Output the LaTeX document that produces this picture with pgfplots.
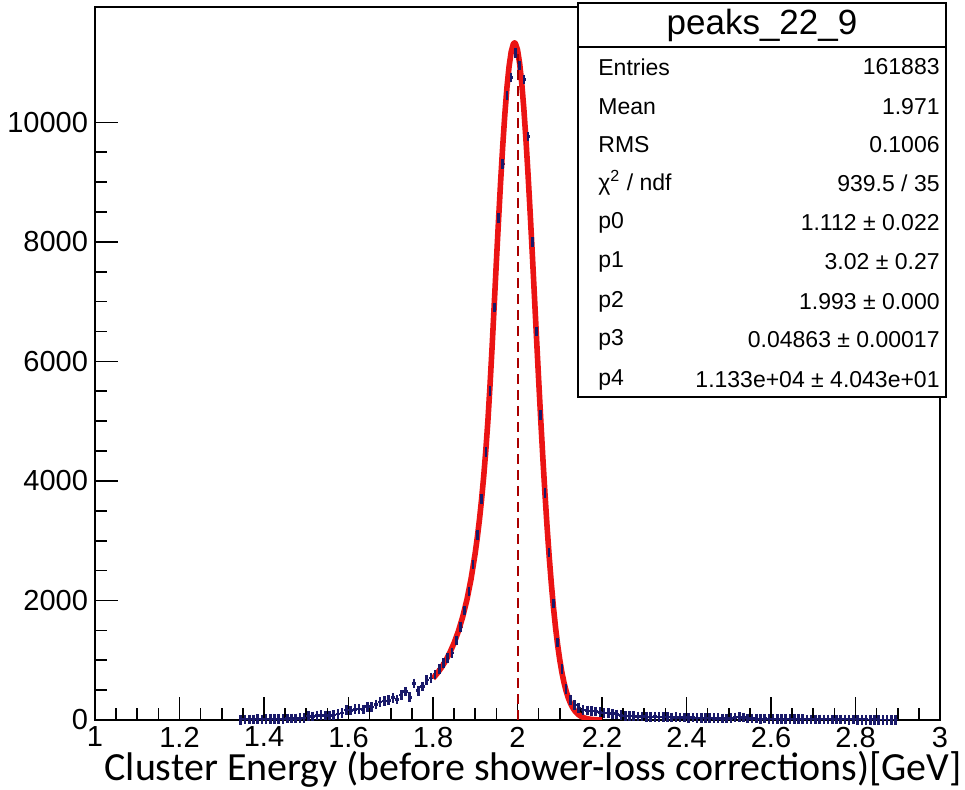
\documentclass[border=0pt]{standalone}
\usepackage{pgfplots}
\pgfplotsset{compat=1.18}
\usepackage{graphicx}
\usepackage{fontspec}
\setmainfont{Liberation Sans}
\newfontfamily\carlito{Carlito}
\definecolor{rootred}{RGB}{235,20,20}
\definecolor{rootnavy}{RGB}{25,25,105}
\definecolor{dashred}{RGB}{170,0,0}

\pgfplotstableread{
x y
1.345 5
1.355 8
1.365 6
1.375 10
1.385 12
1.395 10
1.405 15
1.415 12
1.425 18
1.435 20
1.445 16
1.455 22
1.465 25
1.475 28
1.485 30
1.495 35
1.505 70
1.515 60
1.525 75
1.535 80
1.545 72
1.555 78
1.565 84
1.575 100
1.585 120
1.595 165
1.605 160
1.615 180
1.625 185
1.635 175
1.645 222
1.655 215
1.665 260
1.675 300
1.685 315
1.695 330
1.705 372
1.715 340
1.725 420
1.735 474
1.745 380
1.755 614
1.765 490
1.775 560
1.785 669
1.795 700
1.805 760
1.815 850
1.825 950
1.835 1040
1.845 1120
1.855 1330
1.865 1560
1.875 1830
1.885 2150
1.895 2600
1.905 3100
1.915 3700
1.925 4480
1.935 5500
1.945 6900
1.955 8400
1.965 9300
1.975 10450
1.985 10750
1.995 11160
2.005 10950
2.015 10720
2.025 9760
2.035 8000
2.045 6500
2.055 5100
2.065 3800
2.075 2800
2.085 1950
2.095 1300
2.105 850
2.115 520
2.125 330
2.135 250
2.145 200
2.155 170
2.165 160
2.175 150
2.185 140
2.195 130
2.205 120
2.215 115
2.225 105
2.235 95
2.245 80
2.255 70
2.265 68
2.275 62
2.285 60
2.295 58
2.305 55
2.315 52
2.325 55
2.335 50
2.345 48
2.355 50
2.365 45
2.375 46
2.385 42
2.395 40
2.405 38
2.415 40
2.425 36
2.435 35
2.445 33
2.455 34
2.465 30
2.475 30
2.485 28
2.495 28
2.505 30
2.515 45
2.525 50
2.535 40
2.545 25
2.555 24
2.565 22
2.575 20
2.585 22
2.595 20
2.605 18
2.615 16
2.625 15
2.635 16
2.645 14
2.655 12
2.665 15
2.675 12
2.685 10
2.695 11
2.705 10
2.715 9
2.725 8
2.735 9
2.745 7
2.755 7
2.765 6
2.775 8
2.785 5
2.795 6
2.805 5
2.815 4
2.825 5
2.835 3
2.845 4
2.855 3
2.865 2
2.875 3
2.885 2
2.895 1
}\histdata

\pgfplotstableread{
x y
1.800 697
1.810 781
1.820 878
1.830 993
1.840 1129
1.850 1290
1.860 1483
1.870 1718
1.880 2003
1.890 2357
1.900 2799
1.905 3061
1.910 3357
1.915 3693
1.920 4075
1.925 4511
1.930 5012
1.935 5608
1.940 6256
1.945 6961
1.950 7664
1.955 8349
1.960 9000
1.965 9599
1.970 10131
1.975 10580
1.980 10932
1.985 11178
1.990 11308
1.993 11330
1.995 11320
2.000 11213
2.005 10990
2.010 10658
2.015 10228
2.020 9712
2.025 9124
2.030 8483
2.035 7803
2.040 7102
2.045 6397
2.050 5700
2.055 5027
2.060 4386
2.065 3787
2.070 3235
2.075 2734
2.080 2287
2.085 1892
2.090 1550
2.095 1256
2.100 1007
2.105 799
2.110 627
2.115 487
2.120 374
2.125 285
2.130 214
2.135 160
2.140 118
2.145 86
2.150 62
2.160 31
2.170 15
2.180 7
2.190 3
2.200 1
}\fitdata

\begin{document}
\begin{tikzpicture}
\begin{axis}[
  at={(47.5bp,35bp)}, anchor=south west,
  scale only axis,
  width=422.5bp, height=356.5bp,
  xmin=1, xmax=3, ymin=0, ymax=11930,
  xtick={1,1.2,1.4,1.6,1.8,2,2.2,2.4,2.6,2.8,3},
  ytick={0,2000,4000,6000,8000,10000},
  scaled y ticks=false, scaled x ticks=false,
  minor x tick num=3, minor y tick num=3,
  tick pos=left, tick align=inside,
  major tick length=11.5bp, minor tick length=5.8bp,
  axis line style={line width=0.8bp},
  every tick/.style={black, line width=0.8bp},
  /pgf/number format/assume math mode=true,
  /pgf/number format/1000 sep={},
  ticklabel style={font=\fontsize{14.5bp}{16bp}\selectfont},
  clip=true,
]
\addplot[rootnavy, only marks, mark=|, mark size=2.4bp,
  mark options={line width=1.3bp},
  error bars/.cd, x dir=both, x fixed=0.005,
  error bar style={line width=1.3bp, rootnavy}, error mark=none]
  table[x=x, y=y] {\histdata};
\addplot[rootred, line width=2.8bp, line join=round] table[x=x, y=y] {\fitdata};
\addplot[dashred, line width=1bp, dash pattern=on 5bp off 3bp] coordinates {(2,0) (2,11200)};
\end{axis}
% statistics box
\draw[line width=0.8bp, fill=white] (289bp,196.5bp) rectangle (473bp,393.5bp);
\draw[line width=0.8bp] (289bp,371.5bp) -- (473bp,371.5bp);
\node[font=\fontsize{17.5bp}{20bp}\selectfont] at (381bp,382.5bp) {peaks\_22\_9};
\begin{scope}[every node/.style={font=\fontsize{11.5bp}{13bp}\selectfont, inner sep=0pt}]
\foreach \yy/\la/\va in {
  361.5/Entries/161883,
  341.5/Mean/1.971,
  322.5/RMS/0.1006,
  303.5/{χ\textsuperscript{2} / ndf}/{939.5 / 35},
  283.5/p0/{1.112 ± 0.022},
  264/p1/{3.02 ± 0.27},
  244/p2/{1.993 ± 0.000},
  225/p3/{0.04863 ± 0.00017},
  205/p4/{1.133e+04 ± 4.043e+01}} {
  \node[anchor=west] at (299bp,\yy bp) {\la};
  \node[anchor=east] at (470bp,\yy bp) {\va};
}
\end{scope}
\node[anchor=base east, inner sep=0pt] at (481bp,4.5bp)
  {\resizebox{428.5bp}{!}{\carlito Cluster Energy (before shower-loss corrections)[GeV]}};
\pgfresetboundingbox
\path[use as bounding box] (0,0) rectangle (482.5bp,395bp);
\end{tikzpicture}
\end{document}
